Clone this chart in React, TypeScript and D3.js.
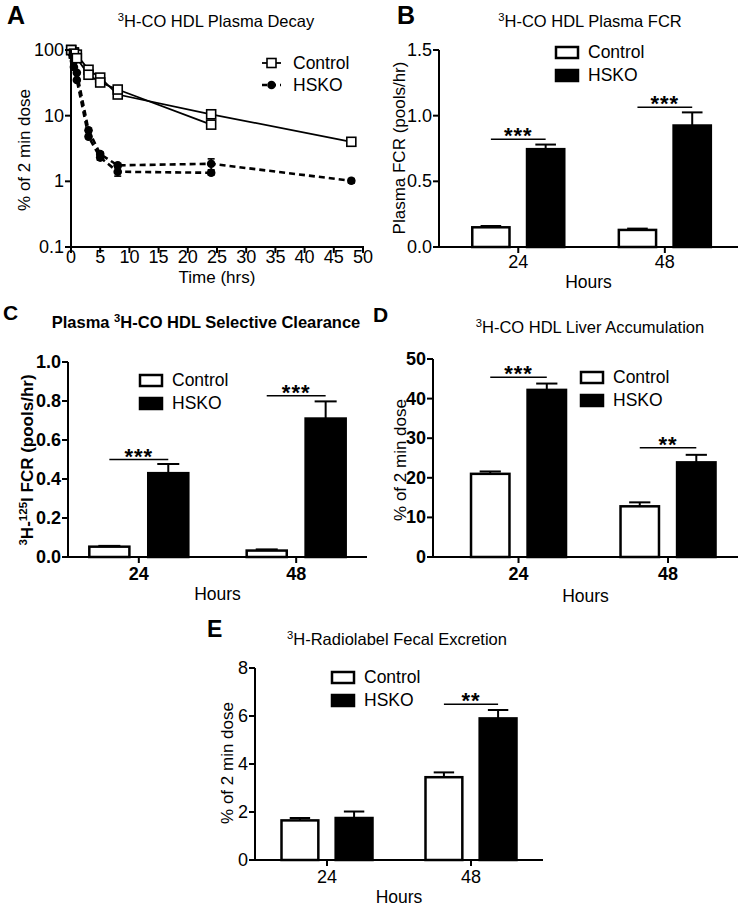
import React from "react";
import * as d3 from "d3";

const FONT = "'Liberation Sans', Arial, Helvetica, sans-serif";

// Panel A: plasma decay (two cohorts per genotype, one sampled to 24 h, one to 48 h)
const decayHours = [0.033, 0.5, 1, 3, 5, 8, 24, 48];
const decayControl48 = [100, 92, 85, 50, 38, 21, 10.5, 4];
const decayControl24 = [100, 88, 75, 42, 32, 25, 7.3];
const decayHsko48 = [95, 68, 45, 6, 2.6, 1.75, 1.85, 1.02];
const decayHsko48Err = [0, 0, 0, 0.4, 0.2, 0.1, 0.35, 0.08];
const decayHsko24 = [92, 55, 35, 4.8, 2.3, 1.4, 1.35];
const decayHsko24Err = [0, 0, 0, 0.3, 0.2, 0.2, 0.1];
const decayXTicks = [0, 5, 10, 15, 20, 25, 30, 35, 40, 45, 50];
const decayYTicks = [0.1, 1, 10, 100];

// Bar panels share the same categories
const hours = ["24", "48"];
const groups = ["Control", "HSKO"];

// B: plasma FCR
const fcrControl = [0.15, 0.13];
const fcrControlErr = [0.01, 0.01];
const fcrHsko = [0.745, 0.925];
const fcrHskoErr = [0.035, 0.1];
const fcrSig = [
  { hour: "24", y: 0.82, label: "***" },
  { hour: "48", y: 1.065, label: "***" },
];

// C: selective clearance
const selControl = [0.053, 0.033];
const selControlErr = [0.004, 0.006];
const selHsko = [0.43, 0.71];
const selHskoErr = [0.047, 0.088];
const selSig = [
  { hour: "24", y: 0.5, label: "***" },
  { hour: "48", y: 0.827, label: "***" },
];

// D: liver accumulation
const liverControl = [21, 12.8];
const liverControlErr = [0.6, 1.0];
const liverHsko = [42.2, 23.9];
const liverHskoErr = [1.6, 1.9];
const liverSig = [
  { hour: "24", y: 45.4, label: "***" },
  { hour: "48", y: 27.6, label: "**" },
];

// E: fecal excretion
const fecalControl = [1.65, 3.45];
const fecalControlErr = [0.1, 0.2];
const fecalHsko = [1.75, 5.9];
const fecalHskoErr = [0.27, 0.35];
const fecalSig = [{ hour: "48", y: 6.49, label: "**" }];

const Sup = ({ t, rest }: { t: string; rest: string }) => (
  <>
    <tspan fontSize="0.68em" dy={-6}>{t}</tspan>
    <tspan dy={6}>{rest}</tspan>
  </>
);

function DecayPanel() {
  const x = d3.scaleLinear().domain([0, 50]).range([71, 363]);
  const y = d3.scaleLog().domain([0.1, 100]).range([247, 50]);
  const line = d3
    .line<[number, number]>()
    .x((d) => x(d[0]))
    .y((d) => y(d[1]));
  const pts = (vals: number[]) => vals.map((v, i) => [decayHours[i], v] as [number, number]);
  const controls = [decayControl48, decayControl24];
  const hskos = [
    { v: decayHsko48, e: decayHsko48Err },
    { v: decayHsko24, e: decayHsko24Err },
  ];
  return (
    <g>
      <text x={7} y={24} fontSize={25} fontWeight="bold">A</text>
      <text x={216} y={27} fontSize={16.5} textAnchor="middle">
        <Sup t="3" rest="H-CO HDL Plasma Decay" />
      </text>
      {/* lines */}
      {controls.map((c, i) => (
        <path key={"c" + i} d={line(pts(c)) || ""} fill="none" stroke="#000" strokeWidth={1.8} />
      ))}
      {hskos.map((h, i) => (
        <path key={"h" + i} d={line(pts(h.v)) || ""} fill="none" stroke="#000" strokeWidth={2.6} strokeDasharray="6,4" />
      ))}
      {/* error bars */}
      {hskos.map((h, i) =>
        h.v.map((v, j) =>
          h.e[j] > 0 ? (
            <g key={"e" + i + j} stroke="#000" strokeWidth={1.6}>
              <line x1={x(decayHours[j])} x2={x(decayHours[j])} y1={y(v + h.e[j])} y2={y(Math.max(v - h.e[j], 0.11))} />
              <line x1={x(decayHours[j]) - 3.5} x2={x(decayHours[j]) + 3.5} y1={y(v + h.e[j])} y2={y(v + h.e[j])} />
              <line x1={x(decayHours[j]) - 3.5} x2={x(decayHours[j]) + 3.5} y1={y(v - h.e[j])} y2={y(v - h.e[j])} />
            </g>
          ) : null
        )
      )}
      {/* markers */}
      {hskos.map((h, i) =>
        h.v.map((v, j) => <circle key={"m" + i + j} cx={x(decayHours[j])} cy={y(v)} r={4.3} fill="#000" />)
      )}
      {controls.map((c, i) =>
        c.map((v, j) => (
          <rect key={"s" + i + j} x={x(decayHours[j]) - 4.5} y={y(v) - 4.5} width={9} height={9} fill="#fff" stroke="#000" strokeWidth={1.6} />
        ))
      )}
      {/* axes */}
      <line x1={71} x2={71} y1={y(100)} y2={y(0.1)} stroke="#000" strokeWidth={2} />
      <line x1={71} x2={364} y1={y(0.1)} y2={y(0.1)} stroke="#000" strokeWidth={2} />
      {decayYTicks.map((t) => (
        <g key={"yt" + t}>
          <line x1={65} x2={71} y1={y(t)} y2={y(t)} stroke="#000" strokeWidth={2} />
          <text x={64} y={y(t) + 6} fontSize={18} textAnchor="end">{String(t)}</text>
        </g>
      ))}
      {decayXTicks.map((t) => (
        <g key={"xt" + t}>
          <line x1={x(t)} x2={x(t)} y1={247} y2={253} stroke="#000" strokeWidth={2} />
          <text x={x(t)} y={263} fontSize={18} textAnchor="middle">{t}</text>
        </g>
      ))}
      <text x={217} y={283} fontSize={17} textAnchor="middle">Time (hrs)</text>
      <text transform="translate(30,150) rotate(-90)" fontSize={17} textAnchor="middle">% of 2 min dose</text>
      {/* legend */}
      <line x1={262} x2={281} y1={63} y2={63} stroke="#000" strokeWidth={1.8} />
      <rect x={267} y={58.5} width={9} height={9} fill="#fff" stroke="#000" strokeWidth={1.6} />
      <text x={293} y={69} fontSize={17.5}>Control</text>
      <line x1={262} x2={281} y1={85} y2={85} stroke="#000" strokeWidth={2.6} strokeDasharray="5,4" />
      <circle cx={271.5} cy={85} r={4.3} fill="#000" />
      <text x={293} y={91} fontSize={17.5}>HSKO</text>
    </g>
  );
}

type Sig = { hour: string; y: number; label: string };

type BarProps = {
  box: [number, number, number, number]; // left, right, top, bottom
  max: number;
  ticks: number[];
  fmt: (n: number) => string;
  control: number[];
  controlErr: number[];
  hsko: number[];
  hskoErr: number[];
  sig: Sig[];
  pad: number;
  align: number;
  span: number;
  title: React.ReactNode;
  titlePos: [number, number];
  letter: string;
  letterPos: [number, number, number];
  ylabel: React.ReactNode;
  ylabelPos: [number, number];
  legendPos: [number, number];
  xlabY: [number, number];
  tickBold?: boolean;
  textBold?: boolean;
};

function BarPanel(p: BarProps) {
  const [left, right, top, bottom] = p.box;
  const x = d3.scalePoint().domain(hours).range([left, right]).padding(p.pad).align(p.align);
  const y = d3.scaleLinear().domain([0, p.max]).range([bottom, top]);
  const inner = d3.scaleBand().domain(groups).range([-p.span / 2, p.span / 2]).paddingInner(0.32);
  const bw = inner.bandwidth();
  const series = [
    { name: "Control", v: p.control, e: p.controlErr, fill: "#fff" },
    { name: "HSKO", v: p.hsko, e: p.hskoErr, fill: "#000" },
  ];
  const tw = p.tickBold ? "bold" : "normal";
  const fw = p.textBold ? "bold" : "normal";
  const [lx, ly] = p.legendPos;
  return (
    <g>
      <text x={p.letterPos[0]} y={p.letterPos[1]} fontSize={p.letterPos[2]} fontWeight="bold">{p.letter}</text>
      <text x={p.titlePos[0]} y={p.titlePos[1]} fontSize={16.5} textAnchor="middle" fontWeight={fw}>{p.title}</text>
      {series.map((s) =>
        hours.map((h, i) => {
          const bx = (x(h) as number) + (inner(s.name) as number);
          const cx = bx + bw / 2;
          const yt = y(s.v[i]);
          const ye = y(s.v[i] + s.e[i]);
          return (
            <g key={s.name + h}>
              <line x1={cx} x2={cx} y1={yt} y2={ye} stroke="#000" strokeWidth={2} />
              <line x1={cx - bw / 4 - 1} x2={cx + bw / 4 + 1} y1={ye} y2={ye} stroke="#000" strokeWidth={2} />
              <rect x={bx} y={yt} width={bw} height={bottom - yt} fill={s.fill} stroke="#000" strokeWidth={2.5} />
            </g>
          );
        })
      )}
      {p.sig.map((s) => {
        const gx = x(s.hour) as number;
        const a = gx + (inner("Control") as number) + bw / 2;
        const b = gx + (inner("HSKO") as number) + bw / 2;
        return (
          <g key={"sig" + s.hour}>
            <line x1={a} x2={b} y1={y(s.y)} y2={y(s.y)} stroke="#000" strokeWidth={1.5} />
            <text x={(a + b) / 2} y={y(s.y) + 4} fontSize={22} fontWeight="bold" textAnchor="middle" letterSpacing={1}>{s.label}</text>
          </g>
        );
      })}
      {/* axes */}
      <line x1={left} x2={left} y1={top} y2={bottom} stroke="#000" strokeWidth={2} />
      <line x1={left - 1} x2={right} y1={bottom} y2={bottom} stroke="#000" strokeWidth={2} />
      {p.ticks.map((t) => (
        <g key={"yt" + t}>
          <line x1={left - 6} x2={left} y1={y(t)} y2={y(t)} stroke="#000" strokeWidth={2} />
          <text x={left - 7} y={y(t) + 6} fontSize={18} textAnchor="end" fontWeight={tw}>{p.fmt(t)}</text>
        </g>
      ))}
      {hours.map((h) => (
        <g key={"xt" + h}>
          <line x1={x(h) as number} x2={x(h) as number} y1={bottom} y2={bottom + 6} stroke="#000" strokeWidth={2} />
          <text x={x(h) as number} y={p.xlabY[0]} fontSize={18} textAnchor="middle" fontWeight={tw}>{h}</text>
        </g>
      ))}
      <text x={(left + right) / 2} y={p.xlabY[1]} fontSize={17.5} textAnchor="middle">Hours</text>
      <text transform={`translate(${p.ylabelPos[0]},${p.ylabelPos[1]}) rotate(-90)`} fontSize={17} textAnchor="middle" fontWeight={fw}>
        {p.ylabel}
      </text>
      {/* legend */}
      <rect x={lx} y={ly} width={22} height={11} fill="#fff" stroke="#000" strokeWidth={2.5} />
      <text x={lx + 32} y={ly + 11} fontSize={17.5}>Control</text>
      <rect x={lx} y={ly + 23} width={22} height={11} fill="#000" stroke="#000" strokeWidth={2.5} />
      <text x={lx + 32} y={ly + 34} fontSize={17.5}>HSKO</text>
    </g>
  );
}

export default function App() {
  const f1 = d3.format(".1f");
  const f0 = d3.format("d");
  return (
    <svg width={745} height={910} style={{ position: "absolute", left: 0, top: 0, background: "#fff" }} fontFamily={FONT}>
      <rect width={745} height={910} fill="#fff" />
      <DecayPanel />
      <BarPanel
        box={[439, 738, 50, 247]}
        max={1.5}
        ticks={[0, 0.5, 1.0, 1.5]}
        fmt={f1}
        control={fcrControl}
        controlErr={fcrControlErr}
        hsko={fcrHsko}
        hskoErr={fcrHskoErr}
        sig={fcrSig}
        pad={0.52}
        align={0.52}
        span={92}
        title={<Sup t="3" rest="H-CO HDL Plasma FCR" />}
        titlePos={[590, 27]}
        letter="B"
        letterPos={[397, 24, 25]}
        ylabel="Plasma FCR (pools/hr)"
        ylabelPos={[405, 148]}
        legendPos={[556, 47]}
        xlabY={[268, 288]}
      />
      <BarPanel
        box={[68, 367, 362, 557]}
        max={1.0}
        ticks={[0, 0.2, 0.4, 0.6, 0.8, 1.0]}
        fmt={f1}
        control={selControl}
        controlErr={selControlErr}
        hsko={selHsko}
        hskoErr={selHskoErr}
        sig={selSig}
        pad={0.45}
        align={0.5}
        span={99}
        title={
          <>
            <tspan>Plasma </tspan>
            <Sup t="3" rest="H-CO HDL Selective Clearance" />
          </>
        }
        titlePos={[206, 328]}
        letter="C"
        letterPos={[3, 320, 21]}
        ylabel={
          <>
            <Sup t="3" rest="H-" />
            <Sup t="125" rest="I  FCR (pools/hr)" />
          </>
        }
        ylabelPos={[33, 460]}
        legendPos={[140, 375]}
        xlabY={[580, 600]}
        tickBold
        textBold
      />
      <BarPanel
        box={[433, 738, 359, 557]}
        max={50}
        ticks={[0, 10, 20, 30, 40, 50]}
        fmt={f0}
        control={liverControl}
        controlErr={liverControlErr}
        hsko={liverHsko}
        hskoErr={liverHskoErr}
        sig={liverSig}
        pad={0.52}
        align={0.55}
        span={95}
        title={<Sup t="3" rest="H-CO HDL Liver Accumulation" />}
        titlePos={[590, 333]}
        letter="D"
        letterPos={[373, 322, 21]}
        ylabel="% of 2 min dose"
        ylabelPos={[406, 460]}
        legendPos={[581, 372]}
        xlabY={[580, 602]}
        tickBold
      />
      <BarPanel
        box={[255, 543, 668, 860]}
        max={8}
        ticks={[0, 2, 4, 6, 8]}
        fmt={f0}
        control={fecalControl}
        controlErr={fecalControlErr}
        hsko={fecalHsko}
        hskoErr={fecalHskoErr}
        sig={fecalSig}
        pad={0.5}
        align={0.5}
        span={91}
        title={<Sup t="3" rest="H-Radiolabel Fecal Excretion" />}
        titlePos={[397, 645]}
        letter="E"
        letterPos={[207, 637, 23]}
        ylabel="% of 2 min dose"
        ylabelPos={[233, 763]}
        legendPos={[332, 672]}
        xlabY={[883, 903]}
      />
    </svg>
  );
}
